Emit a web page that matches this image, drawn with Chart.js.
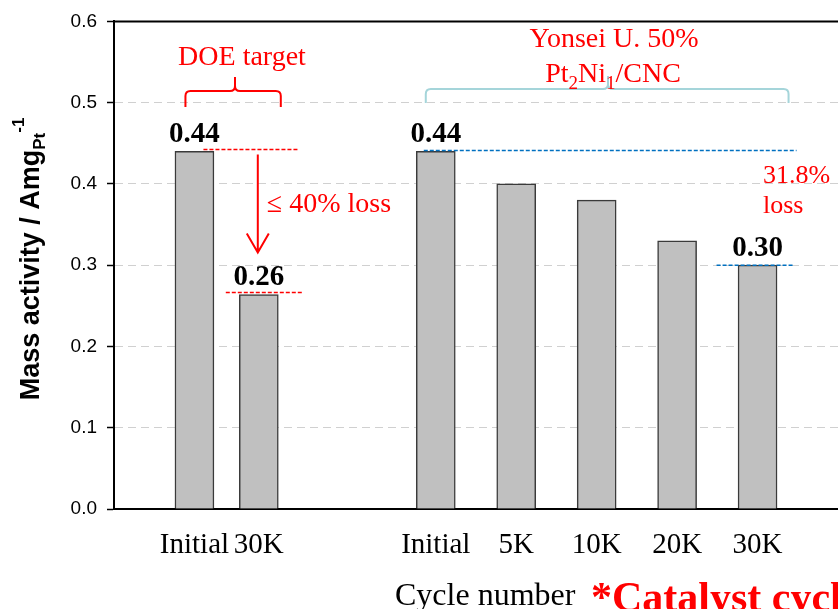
<!DOCTYPE html>
<html>
<head>
<meta charset="utf-8">
<title>Mass activity</title>
<script src="https://cdn.jsdelivr.net/npm/chart.js@4.4.1/dist/chart.umd.min.js"></script>
<style>
  html, body { margin: 0; padding: 0; background: #fff; overflow: hidden; }
  canvas { display: block; }
</style>
</head>
<body>
<canvas id="activity" width="838" height="609"></canvas>
<script>
"use strict";

const doeCycles = ["Initial", "30K"];
const doeActivity = [0.44, 0.264];

const yonseiCycles = ["Initial", "5K", "10K", "20K", "30K"];
const yonseiActivity = [0.44, 0.40, 0.38, 0.33, 0.30];

const yTicks = [0, 0.1, 0.2, 0.3, 0.4, 0.5, 0.6];

// DOE pair sits a bit tighter than the cycling series
const doeSlots = doeCycles.map((c, i) => 1 + i * 0.8);
const yonseiSlots = yonseiCycles.map((c, i) => 4 + i);

const cycleLabels = doeCycles.concat(yonseiCycles);
const slots = doeSlots.concat(yonseiSlots);
const activity = doeActivity.concat(yonseiActivity);

const SERIF = '"Liberation Serif", "Times New Roman", serif';
const SANS = '"Liberation Sans", Arial, sans-serif';
const RED = "#ff0000";
const BLUE = "#0070c0";

function text(ctx, str, x, y, font, color, align) {
  ctx.font = font;
  ctx.fillStyle = color;
  ctx.textAlign = align || "left";
  ctx.textBaseline = "alphabetic";
  ctx.fillText(str, x, y);
}

// runs of [string, font, baseline shift]
function runs(ctx, parts, x, y, color) {
  let w = 0;
  for (const p of parts) {
    ctx.font = p[1];
    w += ctx.measureText(p[0]).width;
  }
  let cx = x - w / 2;
  for (const p of parts) {
    text(ctx, p[0], cx, y + p[2], p[1], color);
    ctx.font = p[1];
    cx += ctx.measureText(p[0]).width;
  }
}

function dashed(ctx, x1, x2, y, color, dash) {
  ctx.save();
  ctx.strokeStyle = color;
  ctx.lineWidth = 1.5;
  ctx.setLineDash(dash);
  ctx.beginPath();
  ctx.moveTo(x1, y);
  ctx.lineTo(x2, y);
  ctx.stroke();
  ctx.restore();
}

function brace(ctx, x1, x2, yLine, yEnd, xTip, yTip, color) {
  const r = 5;
  ctx.save();
  ctx.strokeStyle = color;
  ctx.lineWidth = 2;
  ctx.beginPath();
  ctx.moveTo(x1, yEnd);
  ctx.lineTo(x1, yLine + r);
  ctx.quadraticCurveTo(x1, yLine, x1 + r, yLine);
  ctx.lineTo(xTip - r, yLine);
  ctx.quadraticCurveTo(xTip, yLine, xTip, yLine - r);
  ctx.lineTo(xTip, yTip);
  ctx.moveTo(xTip, yLine - r);
  ctx.quadraticCurveTo(xTip, yLine, xTip + r, yLine);
  ctx.lineTo(x2 - r, yLine);
  ctx.quadraticCurveTo(x2, yLine, x2, yLine + r);
  ctx.lineTo(x2, yEnd);
  ctx.stroke();
  ctx.restore();
}

const extras = {
  id: "extras",
  afterDraw(chart) {
    const { ctx, chartArea: area } = chart;
    const { x, y } = chart.scales;
    const bx = (i) => x.getPixelForValue(slots[i]);
    const by = (v) => y.getPixelForValue(v);
    const last = activity.length - 1;

    // frame top edge
    ctx.save();
    ctx.strokeStyle = "#000";
    ctx.lineWidth = 2;
    ctx.beginPath();
    ctx.moveTo(area.left, area.top);
    ctx.lineTo(area.right, area.top);
    ctx.stroke();
    ctx.restore();

    // value labels
    for (const i of [0, 1, 2, last]) {
      text(ctx, activity[i].toFixed(2), bx(i), by(activity[i]) - 9, "bold 29px " + SERIF, "#000", "center");
    }

    // DOE target: -40% from initial
    dashed(ctx, bx(0) + 9, bx(1) + 39, by(activity[0]) - 2, RED, [4, 2]);
    dashed(ctx, bx(1) - 33, bx(1) + 44, by(activity[1]) - 2, RED, [4, 2]);
    const ax = bx(1) - 1;
    ctx.save();
    ctx.strokeStyle = RED;
    ctx.lineWidth = 2;
    ctx.beginPath();
    ctx.moveTo(ax, by(activity[0]) + 3);
    ctx.lineTo(ax, by(activity[1]) - 42);
    ctx.moveTo(ax - 11, by(activity[1]) - 61);
    ctx.lineTo(ax, by(activity[1]) - 42);
    ctx.lineTo(ax + 11, by(activity[1]) - 61);
    ctx.stroke();
    ctx.restore();
    text(ctx, "\u2264 40% loss", ax + 9, 212, "28px " + SERIF, RED);

    brace(ctx, bx(0) - 9, bx(1) + 22, 91, 107, 235, 77, RED);
    text(ctx, "DOE target", 242, 65, "28px " + SERIF, RED, "center");

    // Yonsei series: initial vs 30K
    dashed(ctx, bx(2) - 12, bx(last) + 39, by(activity[2]) - 1, BLUE, [4, 2]);
    dashed(ctx, bx(last) - 41, bx(last) + 36, by(activity[last]), BLUE, [4, 2]);
    text(ctx, "31.8%", 763, 183, "26px " + SERIF, RED);
    text(ctx, "loss", 763, 213, "26px " + SERIF, RED);

    brace(ctx, bx(2) - 10, bx(last) + 31, 89, 103, 608, 76, "#a5d5da");
    text(ctx, "Yonsei U. 50%", 614, 47, "28px " + SERIF, RED, "center");
    runs(ctx, [
      ["Pt", "28px " + SERIF, 0],
      ["2", "19px " + SERIF, 7],
      ["Ni", "28px " + SERIF, 0],
      ["1", "19px " + SERIF, 7],
      ["/CNC", "28px " + SERIF, 0],
    ], 613, 82, RED);

    // axis titles
    ctx.save();
    ctx.translate(39, 259);
    ctx.rotate(-Math.PI / 2);
    runs(ctx, [
      ["Mass activity / Amg", "bold 27px " + SANS, 0],
      ["Pt", "bold 17px " + SANS, 6],
      ["-1", "bold 17px " + SANS, -15],
    ], 0, 0, "#000");
    ctx.restore();

    text(ctx, "Cycle number", 395, 605, "32px " + SERIF, "#000");
    text(ctx, "*Catalyst cycling", 591, 611, "bold 42px " + SERIF, RED);
  },
};

new Chart(document.getElementById("activity"), {
  type: "bar",
  data: {
    datasets: [{
      data: slots.map((s, i) => ({ x: s, y: activity[i] })),
      backgroundColor: "#c0c0c0",
      borderColor: "#3a3a3a",
      borderWidth: 1.5,
      barThickness: 39,
    }],
  },
  options: {
    responsive: false,
    animation: false,
    layout: { padding: { top: 19, right: 0, left: 0, bottom: 0 } },
    plugins: { legend: { display: false }, tooltip: { enabled: false } },
    scales: {
      x: {
        type: "linear",
        min: 0,
        max: 9,
        offset: false,
        afterFit(scale) { scale.height = 100; },
        afterBuildTicks(scale) { scale.ticks = slots.map((v) => ({ value: v })); },
        grid: { display: false, drawTicks: false, offset: false },
        border: { display: true, color: "#000", width: 2 },
        ticks: {
          autoSkip: false,
          maxRotation: 0,
          padding: 19,
          color: "#000",
          font: { family: SERIF, size: 29 },
          callback: (v, i) => cycleLabels[i],
        },
      },
      y: {
        min: 0,
        max: 0.6,
        afterFit(scale) { scale.width = 114; },
        afterBuildTicks(scale) { scale.ticks = yTicks.map((v) => ({ value: v })); },
        grid: {
          color: (c) => (c.tick && c.tick.value > 0 && c.tick.value < 0.6 ? "#d0d0d0" : "rgba(0,0,0,0)"),
          lineWidth: 1,
          tickLength: 7,
          tickColor: "#000",
          tickWidth: 1.5,
        },
        border: { display: true, color: "#000", width: 2, dash: [8, 5] },
        ticks: {
          padding: 10,
          color: "#000",
          font: { family: SANS, size: 19 },
          callback: (v) => v.toFixed(1),
        },
      },
    },
  },
  plugins: [extras],
});
</script>
</body>
</html>
